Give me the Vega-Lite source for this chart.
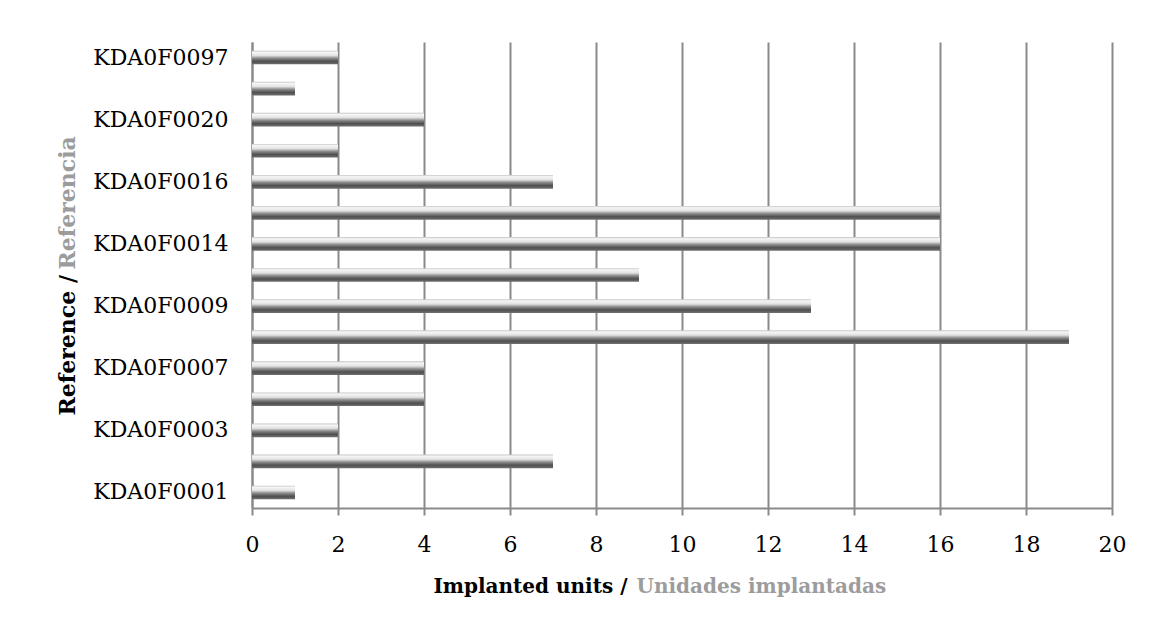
{
  "$schema": "https://vega.github.io/schema/vega-lite/v6.json",
  "width": 860,
  "height": 466,
  "autosize": {"type": "none"},
  "padding": {"left": 252, "top": 42, "right": 41, "bottom": 123},
  "background": "white",
  "data": {"values": [
    {"ref": "KDA0F0097", "units": 2},
    {"ref": "KDA0F0050", "units": 1},
    {"ref": "KDA0F0020", "units": 4},
    {"ref": "KDA0F0018", "units": 2},
    {"ref": "KDA0F0016", "units": 7},
    {"ref": "KDA0F0015", "units": 16},
    {"ref": "KDA0F0014", "units": 16},
    {"ref": "KDA0F0012", "units": 9},
    {"ref": "KDA0F0009", "units": 13},
    {"ref": "KDA0F0008", "units": 19},
    {"ref": "KDA0F0007", "units": 4},
    {"ref": "KDA0F0005", "units": 4},
    {"ref": "KDA0F0003", "units": 2},
    {"ref": "KDA0F0002", "units": 7},
    {"ref": "KDA0F0001", "units": 1}
  ]},
  "config": {
    "view": {"stroke": null},
    "axis": {"labelFont": "DejaVu Serif", "titleFont": "DejaVu Serif", "labelColor": "#000", "labelFontSize": 22}
  },
  "layer": [
    {
      "mark": {
        "type": "bar",
        "color": {
          "gradient": "linear", "x1": 0, "y1": 0, "x2": 0, "y2": 1,
          "stops": [
            {"offset": 0, "color": "#c4c4c4"},
            {"offset": 0.12, "color": "#f6f6f6"},
            {"offset": 0.35, "color": "#e2e2e2"},
            {"offset": 0.55, "color": "#8c8c8c"},
            {"offset": 0.78, "color": "#4f4f4f"},
            {"offset": 1, "color": "#707070"}
          ]
        }
      },
      "encoding": {
        "y": {
          "field": "ref", "type": "nominal", "sort": null,
          "scale": {"paddingInner": 0.56, "paddingOuter": 0.28},
          "axis": {
            "orient": "left",
            "title": "Reference /", "titleFontWeight": "bold", "titleFontSize": 22, "titleColor": "#000",
            "titleAngle": -90, "titleAlign": "left", "titleBaseline": "alphabetic", "titleAnchor": null,
            "titleX": -178, "titleY": 373,
            "labelExpr": "indexof(['KDA0F0050','KDA0F0018','KDA0F0015','KDA0F0012','KDA0F0008','KDA0F0005','KDA0F0002'], datum.value) >= 0 ? '' : datum.value",
            "labelPadding": 24, "ticks": false, "domain": true, "domainColor": "#8a8a8a", "domainWidth": 2, "grid": false
          }
        },
        "x": {
          "field": "units", "type": "quantitative",
          "scale": {"domain": [0, 20], "nice": false},
          "axis": {
            "orient": "bottom",
            "values": [0, 2, 4, 6, 8, 10, 12, 14, 16, 18, 20],
            "title": "Implanted units /", "titleFontWeight": "bold", "titleFontSize": 20, "titleColor": "#000",
            "titleAlign": "left", "titleBaseline": "alphabetic", "titleAnchor": null, "titleX": 181, "titleY": 84,
            "grid": true, "gridColor": "#8a8a8a", "gridWidth": 2,
            "domainColor": "#8a8a8a", "domainWidth": 2, "tickColor": "#8a8a8a", "tickWidth": 2, "tickSize": 7,
            "labelPadding": 19, "labelFlush": false
          }
        }
      }
    },
    {
      "mark": {"type": "bar", "opacity": 0},
      "encoding": {
        "y": {
          "field": "ref", "type": "nominal", "sort": null,
          "axis": {
            "orient": "left",
            "title": "Referencia", "titleFontWeight": "bold", "titleFontSize": 22, "titleColor": "#9c9c9c",
            "titleAngle": -90, "titleAlign": "left", "titleBaseline": "alphabetic", "titleAnchor": null,
            "titleX": -178, "titleY": 227,
            "labels": false, "ticks": false, "domain": false, "grid": false
          }
        },
        "x": {
          "field": "units", "type": "quantitative",
          "scale": {"domain": [0, 20], "nice": false},
          "axis": {
            "orient": "bottom",
            "title": "Unidades implantadas", "titleFontWeight": "bold", "titleFontSize": 20, "titleColor": "#9c9c9c",
            "titleAlign": "left", "titleBaseline": "alphabetic", "titleAnchor": null, "titleX": 384, "titleY": 84,
            "labels": false, "ticks": false, "domain": false, "grid": false
          }
        }
      }
    }
  ],
  "resolve": {"scale": {"x": "independent", "y": "independent"}, "axis": {"x": "independent", "y": "independent"}}
}
